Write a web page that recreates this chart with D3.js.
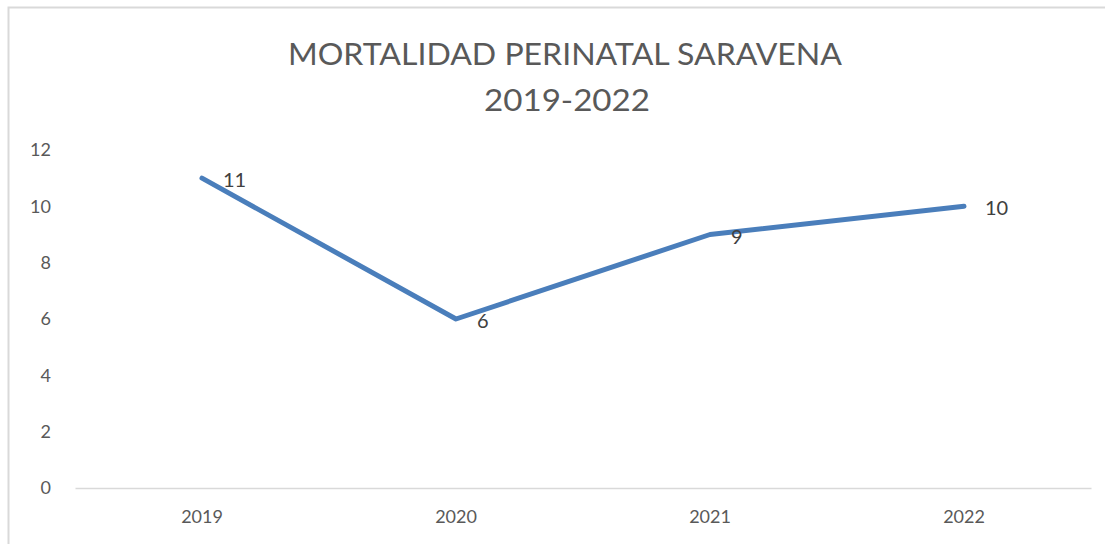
<!DOCTYPE html>
<html><head><meta charset="utf-8">
<script src="https://cdn.jsdelivr.net/npm/d3@7"></script>
<style>body{margin:0;background:#fff}svg{display:block}</style>
</head><body>
<script>
const categories = ["2019", "2020", "2021", "2022"];
const values = [11, 6, 9, 10];
const yTicks = [0, 2, 4, 6, 8, 10, 12];
const titleLines = ["MORTALIDAD PERINATAL SARAVENA", "2019-2022"];

const W = 1105, H = 544;
const svg = d3.select("body").append("svg").attr("width", W).attr("height", H);
const font = "Lato, Open Sans, sans-serif";

// chart frame (top and left edges visible)
svg.append("path").attr("d", "M8.5,544 V7.5 H1105").attr("fill", "none")
  .attr("stroke", "#d9d9d9").attr("stroke-width", 2);

const x = d3.scaleBand().domain(categories).range([75, 1091]);
const y = d3.scaleLinear().domain([0, 12]).range([488, 150]);

// title
svg.append("text").attr("x", 565).attr("y", 65).attr("text-anchor", "middle")
  .attr("font-family", font).attr("font-size", 30).attr("fill", "#595959")
  .attr("textLength", 554).attr("lengthAdjust", "spacingAndGlyphs").text(titleLines[0]);
svg.append("text").attr("x", 567).attr("y", 111).attr("text-anchor", "middle")
  .attr("font-family", font).attr("font-size", 30).attr("fill", "#595959")
  .attr("textLength", 166).attr("lengthAdjust", "spacingAndGlyphs").text(titleLines[1]);

// y axis labels
const yAxis = svg.append("g").attr("transform", "translate(51,0)")
  .call(d3.axisLeft(y).tickValues(yTicks).tickSize(0).tickPadding(0).tickFormat(d3.format("d")));
yAxis.select(".domain").remove();
yAxis.selectAll("text").attr("font-family", font).attr("font-size", 18).attr("fill", "#595959");

// x axis
const xAxis = svg.append("g").attr("transform", `translate(0,${y(0)})`)
  .call(d3.axisBottom(x).tickSize(0).tickPadding(22));
xAxis.select(".domain").attr("stroke", "#d9d9d9").attr("stroke-width", 1.5);
xAxis.selectAll("text").attr("font-family", font).attr("font-size", 18).attr("fill", "#595959");

const cx = d => x(d) + x.bandwidth() / 2;

// line
const line = d3.line().x((d, i) => cx(categories[i])).y(d => y(d));
svg.append("path").datum(values).attr("d", line).attr("fill", "none")
  .attr("stroke", "#4a7ebb").attr("stroke-width", 5)
  .attr("stroke-linejoin", "round").attr("stroke-linecap", "round");

// data labels
svg.selectAll(".lbl").data(values).enter().append("text")
  .attr("x", (d, i) => cx(categories[i]) + 21)
  .attr("y", d => y(d) + 9)
  .attr("font-family", font).attr("font-size", 20).attr("fill", "#404040")
  .text(d => d);
</script>
</body></html>
